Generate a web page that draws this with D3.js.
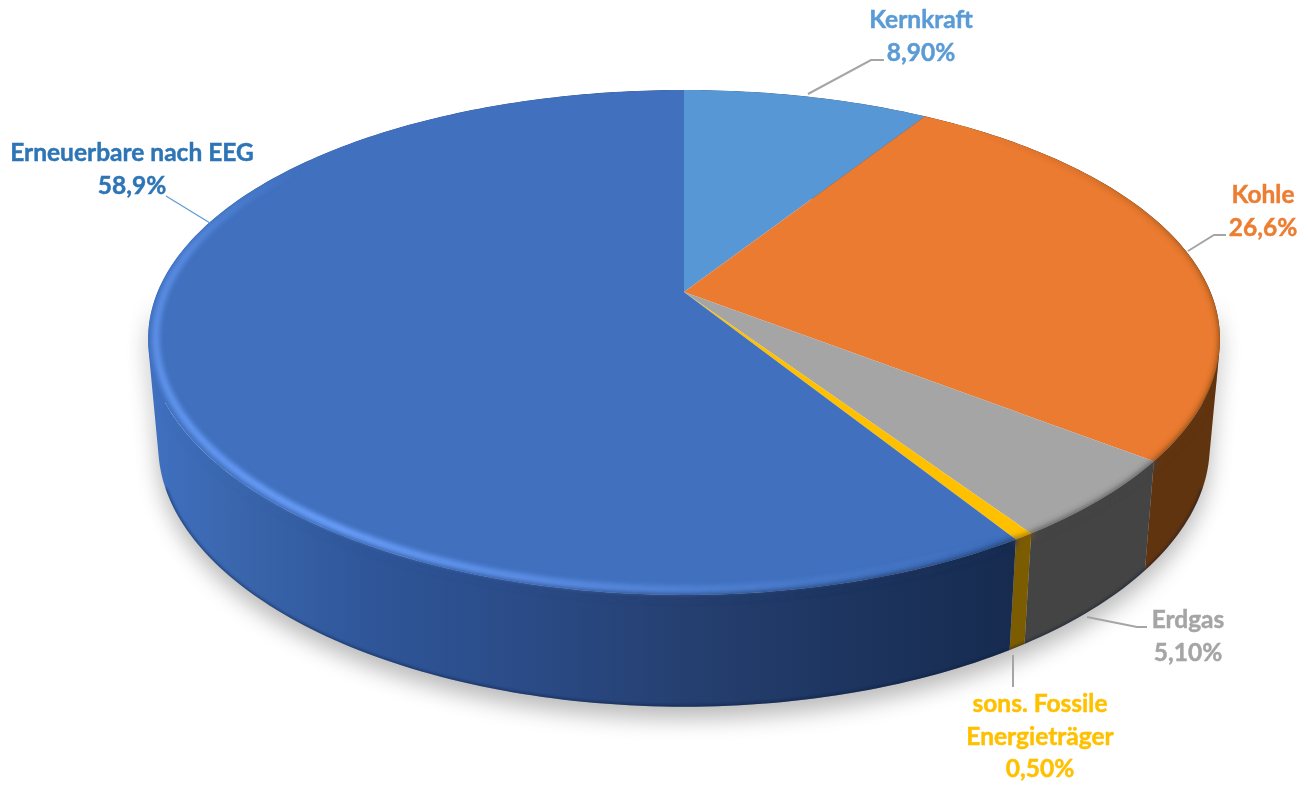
<!DOCTYPE html>
<html lang="de">
<head>
<meta charset="utf-8">
<title>Energieträger</title>
<script src="https://cdn.jsdelivr.net/npm/d3@7"></script>
<style>
  html, body { margin: 0; padding: 0; background: #fff; }
  svg { display: block; }
  text { font-family: Lato, "Open Sans", sans-serif; font-weight: 700; font-size: 24.5px; text-anchor: middle; stroke-width: 0.45px; }
</style>
</head>
<body>
<svg id="chart" width="1308" height="785"></svg>
<script>
// Shares of the energy mix, in percent, clockwise from twelve o'clock
const categories = ["Kernkraft", "Kohle", "Erdgas", "sons. Fossile Energieträger", "Erneuerbare nach EEG"];
const shares = [8.9, 26.6, 5.1, 0.5, 58.9];
const shareLabels = ["8,90%", "26,6%", "5,10%", "0,50%", "58,9%"];
const labelLines = [["Kernkraft"], ["Kohle"], ["Erdgas"], ["sons. Fossile", "Energieträger"], ["Erneuerbare nach EEG"]];
const topColors = ["#5897d5", "#ea7b30", "#a5a5a5", "#ffc000", "#4070be"];
const wallColors = ["#34587f", "#613410", "#444444", "#7c5c00", "url(#blueWall)"];
const textColors = ["#5b9bd5", "#ed7d31", "#a5a5a5", "#ffc000", "#2e75b6"];
const leaderColors = ["#a5a5a5", "#a5a5a5", "#a5a5a5", "#a5a5a5", "#5b9bd5"];

// Label placement: text centre, first baseline, and the leader polyline
const labelCenters = [921, 1263, 1188, 1040, 132];
const labelBaselines = [28, 203, 628, 712, 161];
const leaders = [
  [[808, 94], [871, 60], [884, 60]],
  [[1188, 251], [1214, 235], [1226, 235]],
  [[1087, 617], [1137, 627], [1147, 627]],
  [[1013, 655], [1013, 687]],
  [[166, 196], [210, 223]]
];

const lineStep = 32.5;
const apex = { x: 684, y: 292 };
const radiusX = 526.5, radiusY = 242.4, tiltX = 0.187, tiltY = 0.2;

// Perspective projection of a point on the disc's top face
function rim(theta, r = 1) {
  const u = r * Math.sin(theta), v = r * Math.cos(theta);
  return [apex.x + radiusX * u / (1 + tiltX * v), apex.y - radiusY * v / (1 + tiltY * v)];
}
// The same point on the lower face of the disc
function lower([x, y]) {
  return [apex.x + 0.981 * (x - apex.x), y + 109 + 0.02 * (y - 460)];
}

const pie = d3.pie().sort(null).startAngle(0).endAngle(2 * Math.PI);
const arcs = pie(shares);
const samples = (a, b, n) => d3.range(n + 1).map(i => a + (b - a) * i / n);
const line = d3.line();
const degrees = t => t * 180 / Math.PI;
const radians = d => d * Math.PI / 180;

// Extruded band between two rim angles, as quads that all wind the same way
function wallPath(a, b) {
  const ts = samples(a, b, Math.max(4, Math.round(degrees(b - a))));
  return ts.slice(1).map((t, j) => {
    const p = rim(ts[j]), q = rim(t);
    const quad = [p, q, lower(q), lower(p)];
    return line(d3.polygonArea(quad) < 0 ? quad.reverse() : quad) + "Z";
  }).join("");
}

const svg = d3.select("#chart");
const defs = svg.append("defs");

const blur = (id, sd) => defs.append("filter").attr("id", id)
  .attr("filterUnits", "userSpaceOnUse").attr("x", 0).attr("y", 0)
  .attr("width", 1308).attr("height", 785)
  .append("feGaussianBlur").attr("stdDeviation", sd);
blur("shadowBlur", 11);
blur("edgeBlur", 3);
blur("glowBlur", 2.4);
blur("baseBlur", 1.6);

// Side wall of the renewable slice darkens from left to right
const wallGradient = defs.append("linearGradient").attr("id", "blueWall")
  .attr("gradientUnits", "userSpaceOnUse")
  .attr("x1", 150).attr("x2", 1017).attr("y1", 0).attr("y2", 0);
[[0, "#4070c0"], [0.1, "#3a66ad"], [0.25, "#2f5699"], [0.45, "#2a4a85"],
 [0.62, "#253f70"], [0.8, "#1d3560"], [1, "#172b4f"]]
  .forEach(([o, c]) => wallGradient.append("stop").attr("offset", o).attr("stop-color", c));

const topOutline = samples(0, 2 * Math.PI, 360).map(t => rim(t));

const clip = defs.append("clipPath").attr("id", "discClip");
clip.append("path").attr("d", line(topOutline) + "Z");
clip.append("path").attr("d", wallPath(0, 2 * Math.PI));

// Soft drop shadow below the disc
svg.append("path")
  .attr("d", wallPath(Math.PI / 2, 3 * Math.PI / 2))
  .attr("transform", "translate(0,12)")
  .attr("fill", "#000").attr("opacity", 0.27).attr("filter", "url(#shadowBlur)");

// Side walls
svg.append("g").selectAll("path").data(arcs).join("path")
  .attr("d", d => wallPath(d.startAngle, d.endAngle))
  .attr("fill", (d, i) => wallColors[i]);

const disc = svg.append("g").attr("clip-path", "url(#discClip)");

// Darkened lower edge of the wall along the front only
disc.append("path")
  .attr("d", line(samples(radians(110), radians(250), 140).map(t => lower(rim(t)))))
  .attr("fill", "none").attr("stroke", "#0b1a38").attr("stroke-width", 2.5)
  .attr("opacity", 0.6).attr("filter", "url(#baseBlur)");

// Top face
disc.append("g").selectAll("path").data(arcs).join("path")
  .attr("d", d => line([[apex.x, apex.y]].concat(samples(d.startAngle, d.endAngle, 120).map(t => rim(t)))) + "Z")
  .attr("fill", (d, i) => topColors[i]);

// Rounded edge: the wall colour bleeds softly over the rim, fading toward the back
const edgeFade = d3.scaleLinear().domain([40, 105, 200, 245, 360]).range([0, 1, 1, 0, 0]).clamp(true);
const edge = disc.append("g").attr("filter", "url(#edgeBlur)").attr("fill", "none");
arcs.forEach((d, i) => {
  const ts = samples(d.startAngle, d.endAngle, Math.max(4, Math.round(degrees(d.endAngle - d.startAngle) / 1.5)));
  ts.slice(1).forEach((t, j) => {
    edge.append("path")
      .attr("d", line([rim(ts[j], 1.004), rim(t, 1.004)]))
      .attr("stroke", wallColors[i]).attr("stroke-width", 5)
      .attr("opacity", edgeFade(degrees(t)));
  });
});

// Light catching the bevel along the front-left of the renewable slice
const glowFade = d3.scaleLinear().domain([150, 175, 215, 280, 306]).range([0, 0.35, 1, 0.55, 0]).clamp(true);
const glow = disc.append("g").attr("filter", "url(#glowBlur)").attr("fill", "none");
const blue = arcs[4];
const blueAngles = samples(blue.startAngle, blue.endAngle, 150);
blueAngles.slice(1).forEach((t, j) => {
  glow.append("path")
    .attr("d", line([rim(blueAngles[j], 0.986), rim(t, 0.986)]))
    .attr("stroke", "#6da2ff").attr("stroke-width", 7)
    .attr("opacity", glowFade(degrees(t)));
});

// Leader lines
svg.append("g").selectAll("path").data(leaders).join("path")
  .attr("d", d => line(d))
  .attr("fill", "none")
  .attr("stroke", (d, i) => leaderColors[i])
  .attr("stroke-width", (d, i) => i === 4 ? 1.2 : 2);

// Labels: name lines followed by the share
svg.append("g").selectAll("text")
  .data(categories.flatMap((c, i) => labelLines[i].concat(shareLabels[i]).map((s, k) => ({ s, k, i }))))
  .join("text")
  .attr("x", d => labelCenters[d.i])
  .attr("y", d => labelBaselines[d.i] + d.k * lineStep)
  .attr("fill", d => textColors[d.i])
  .attr("stroke", d => textColors[d.i])
  .text(d => d.s);
</script>
</body>
</html>
